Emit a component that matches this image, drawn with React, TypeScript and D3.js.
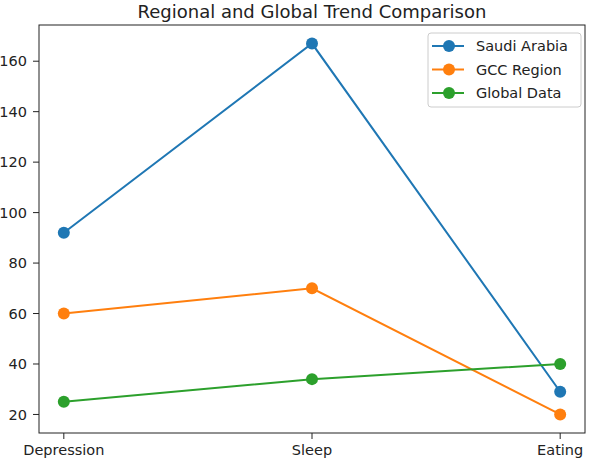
import * as d3 from "d3";

// chart data
const categories = ["Depression", "Sleep", "Eating"];
const saudiArabia = [92, 167, 29];
const gccRegion = [60, 70, 20];
const globalData = [25, 34, 40];
const yTicks = [20, 40, 60, 80, 100, 120, 140, 160];

const series = [
  { name: "Saudi Arabia", values: saudiArabia, color: "#1f77b4" },
  { name: "GCC Region", values: gccRegion, color: "#ff7f0e" },
  { name: "Global Data", values: globalData, color: "#2ca02c" },
];

const width = 590;
const height = 460;
const margin = { top: 25, right: 5, bottom: 27, left: 39 };

export default function App() {
  const innerW = width - margin.left - margin.right;
  const innerH = height - margin.top - margin.bottom;

  // matplotlib-style 5% padding around the data
  const x = d3.scaleLinear().domain([-0.1, categories.length - 1 + 0.1]).range([0, innerW]);
  const all = series.flatMap((s) => s.values);
  const lo = d3.min(all)!;
  const hi = d3.max(all)!;
  const pad = (hi - lo) * 0.05;
  const y = d3.scaleLinear().domain([lo - pad, hi + pad]).range([innerH, 0]);

  const line = d3
    .line<number>()
    .x((_, i) => x(i))
    .y((d) => y(d));

  const font = "DejaVu Sans, sans-serif";

  return (
    <svg
      width={width}
      height={height}
      style={{ position: "absolute", left: 0, top: 0, background: "#fff" }}
      fontFamily={font}
    >
      <text x={margin.left + innerW / 2} y={18} textAnchor="middle" fontSize={18} fill="#222">
        Regional and Global Trend Comparison
      </text>
      <g transform={`translate(${margin.left},${margin.top})`}>
        {/* y axis */}
        {yTicks.map((t) => (
          <g key={t} transform={`translate(0,${y(t)})`}>
            <line x1={-6} x2={0} stroke="#222" />
            <text x={-12} dy="0.35em" textAnchor="end" fontSize={14.5} fill="#222">
              {t}
            </text>
          </g>
        ))}
        {/* x axis */}
        {categories.map((c, i) => (
          <g key={c} transform={`translate(${x(i)},${innerH})`}>
            <line y1={0} y2={6} stroke="#222" />
            <text y={22} textAnchor="middle" fontSize={14.5} fill="#222">
              {c}
            </text>
          </g>
        ))}
        {series.map((s) => (
          <g key={s.name}>
            <path d={line(s.values)!} fill="none" stroke={s.color} strokeWidth={2} />
            {s.values.map((v, i) => (
              <circle key={i} cx={x(i)} cy={y(v)} r={6} fill={s.color} />
            ))}
          </g>
        ))}
        <rect x={0} y={0} width={innerW} height={innerH} fill="none" stroke="#222" strokeWidth={1} />
        {/* legend */}
        <g transform={`translate(${innerW - 157},8)`}>
          <rect width={153} height={74} rx={3} fill="#fff" fillOpacity={0.8} stroke="#ccc" />
          {series.map((s, i) => (
            <g key={s.name} transform={`translate(0,${13 + i * 23.5})`}>
              <line x1={4} x2={36} stroke={s.color} strokeWidth={2} />
              <circle cx={21} cy={0} r={6} fill={s.color} />
              <text x={48} dy="0.35em" fontSize={14.5} fill="#222">
                {s.name}
              </text>
            </g>
          ))}
        </g>
      </g>
    </svg>
  );
}
